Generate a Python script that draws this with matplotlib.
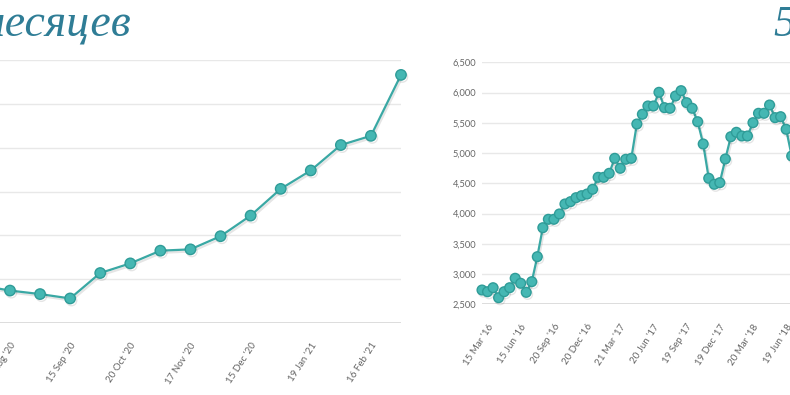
import numpy as np
import matplotlib.pyplot as plt
import matplotlib.patheffects as pe

W, H = 790, 395

# ---- data: left chart (last months) ----
left_values = [6430, 6370, 6330, 6280, 6570, 6680, 6825, 6840, 6990, 7225,
               7530, 7740, 8030, 8135, 8830]
left_tick_pos = [1, 3, 5, 7, 9, 11, 13]
left_tick_labels = ["18 Aug '20", "15 Sep '20", "20 Oct '20", "17 Nov '20",
                    "15 Dec '20", "19 Jan '21", "16 Feb '21"]
left_yticks = [6000, 6500, 7000, 7500, 8000, 8500, 9000]

# ---- data: right chart (5 years) ----
right_values = [2736, 2708, 2774, 2609, 2708, 2774, 2930, 2847, 2698, 2874,
                3287, 3766, 3905, 3905, 3993, 4158, 4196, 4262, 4295, 4323,
                4401, 4599, 4599, 4665, 4913, 4748, 4897, 4913, 5480, 5641,
                5778, 5778, 6004, 5750, 5740, 5943, 6031, 5833, 5740, 5518,
                5150, 4583, 4484, 4510, 4902, 5270, 5343, 5282, 5282, 5502,
                5657, 5657, 5794, 5585, 5601, 5393, 4951]
right_tick_pos = [1, 7, 13, 19, 25, 31, 37, 43, 49, 55]
right_tick_labels = ["15 Mar '16", "15 Jun '16", "20 Sep '16", "20 Dec '16",
                     "21 Mar '17", "20 Jun '17", "19 Sep '17", "19 Dec '17",
                     "20 Mar '18", "19 Jun '18"]
right_yticks = [2500, 3000, 3500, 4000, 4500, 5000, 5500, 6000, 6500]

TITLE_COLOR = '#2f7d96'
LINE_COLOR = '#3aa8a4'
GRID_COLOR = '#e8e8e8'
LABEL_COLOR = '#666666'

fig = plt.figure(figsize=(W / 100, H / 100), dpi=100)
fig.patch.set_facecolor('white')


def px_axes(x0, x1, ytop, ybot):
    # axes placed by pixel edges (top-left origin)
    return fig.add_axes([x0 / W, (H - ybot) / H, (x1 - x0) / W, (ybot - ytop) / H])


def style_axes(ax, values, tick_pos, tick_labels, yticks, ms):
    x = np.arange(len(values))
    ax.plot(x, values, color=LINE_COLOR, lw=1.6, marker='o', ms=ms,
            mfc='#45b7b3', mec='#2f9c98', mew=1.0, clip_on=False, zorder=3,
            path_effects=[pe.SimpleLineShadow(offset=(1, -1.5), shadow_color='k',
                                              alpha=0.1), pe.Normal()])
    ax.set_ylim(yticks[0], yticks[-1])
    ax.set_yticks(yticks, [f"{v:,}" for v in yticks])
    ax.grid(axis='y', color=GRID_COLOR, lw=1)
    ax.axhline(yticks[0], color='#dddddd', lw=1.4, zorder=1)
    ax.set_axisbelow(True)
    for s in ax.spines.values():
        s.set_visible(False)
    ax.set_xticks(tick_pos, tick_labels, rotation=57, ha='right', va='top',
                  rotation_mode='anchor')
    ax.tick_params(axis='x', length=0, pad=13, labelsize=7, labelcolor=LABEL_COLOR)
    ax.tick_params(axis='y', length=0, pad=4, labelsize=6.7, labelcolor=LABEL_COLOR)
    for lbl in ax.get_xticklabels() + ax.get_yticklabels():
        lbl.set_family('Lato')


# left chart (cut off on the left in the screenshot)
ax1 = px_axes(-20.1, 401, 60, 323)
style_axes(ax1, left_values, left_tick_pos, left_tick_labels, left_yticks, 7.5)
ax1.set_xlim(0, len(left_values) - 1)

# right chart (runs past the right edge)
ax2 = px_axes(482, 482 + 60 * 5.53, 62.3, 304.3)
style_axes(ax2, right_values, right_tick_pos, right_tick_labels, right_yticks, 7)
ax2.set_xlim(0, 60)

# titles
fig.text(131 / W, 1 - 35 / H, '6 месяцев', ha='right', va='baseline',
         fontsize=33, style='italic', family='Liberation Serif', color=TITLE_COLOR)
fig.text(774 / W, 1 - 36 / H, '5 лет', ha='left', va='baseline',
         fontsize=32, style='italic', family='Liberation Serif', color=TITLE_COLOR)

fig.savefig('out.png', dpi=100, facecolor='white')
